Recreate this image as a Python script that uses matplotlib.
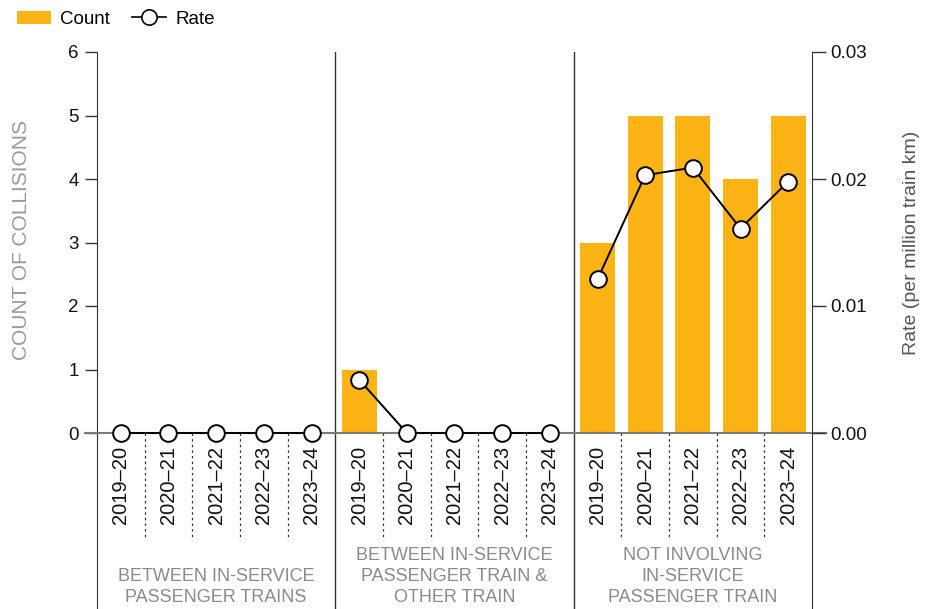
import matplotlib
matplotlib.use("Agg")
import matplotlib.pyplot as plt
from matplotlib.patches import Patch
from matplotlib.lines import Line2D
import numpy as np

plt.rcParams['font.family'] = ['Liberation Sans', 'DejaVu Sans']

years = ["2019–20", "2020–21", "2021–22", "2022–23", "2023–24"]
groups = ["BETWEEN IN-SERVICE\nPASSENGER TRAINS",
          "BETWEEN IN-SERVICE\nPASSENGER TRAIN &\nOTHER TRAIN",
          "NOT INVOLVING\nIN-SERVICE\nPASSENGER TRAIN"]
count_g1 = [0, 0, 0, 0, 0]
count_g2 = [1, 0, 0, 0, 0]
count_g3 = [3, 5, 5, 4, 5]
rate_g1 = [0.0, 0.0, 0.0, 0.0, 0.0]
rate_g2 = [0.0042, 0.0, 0.0, 0.0, 0.0]
rate_g3 = [0.0121, 0.0203, 0.0209, 0.0161, 0.0198]

counts = [count_g1, count_g2, count_g3]
rates = [rate_g1, rate_g2, rate_g3]

ORANGE = "#FCB316"
W, H = 929, 609
fig = plt.figure(figsize=(W / 100, H / 100), dpi=100)
ax = fig.add_axes([97 / W, 0, (812 - 97) / W, 1 - 52 / H])

ymin = -(609 - 433) * 6 / (433 - 52)
ax.set_ylim(ymin, 6)
ax.set_xlim(-0.5, 14.5)
ax2 = ax.twinx()
ax2.set_ylim(ymin * 0.005, 0.03)

n = len(years)
for g in range(3):
    xs = np.arange(n) + g * n
    ax.bar(xs, counts[g], width=0.73, color=ORANGE, zorder=2)
    ax2.plot(xs, rates[g], color="black", lw=1.4, marker="o", ms=12,
             mfc="white", mec="black", mew=1.4, zorder=5, clip_on=False)
    for i, x in enumerate(xs):
        ax.text(x, -0.2, years[i], rotation=90, ha="center", va="top",
                fontsize=14.5, color="#111111")
        if i > 0:
            ax.plot([x - 0.5, x - 0.5], [0, -1.68], ls=(0, (2, 2.5)), lw=0.9,
                    color="#333333", zorder=1)
    ax.text(g * n + 2, ymin + 0.05, groups[g], ha="center", va="bottom",
            fontsize=13, color="#8a8a8a", linespacing=1.3)

for xb in [4.5, 9.5]:
    ax.axvline(xb, color="#333333", lw=1.0, zorder=3)

ax.plot([-0.752, 14.79], [0, 0], color="#7a7a7a", lw=1.5, zorder=4, clip_on=False)

for s in ["top", "bottom"]:
    ax.spines[s].set_visible(False)
    ax2.spines[s].set_visible(False)
ax.spines["right"].set_visible(False)
ax2.spines["left"].set_visible(False)
ax.spines["left"].set_color("#333333")
ax2.spines["right"].set_color("#333333")

ax.set_xticks([])
ax.set_yticks(range(0, 7))
ax.tick_params(axis="y", length=9, width=1.0, color="#333333", labelsize=13.5,
               pad=4, labelcolor="#111111")
ax2.set_yticks([0.0, 0.01, 0.02, 0.03])
ax2.set_yticklabels(["0.00", "0.01", "0.02", "0.03"])
ax2.tick_params(axis="y", length=10, width=1.0, color="#333333", labelsize=13.5,
                pad=3, labelcolor="#111111")

fig.text(22 / W, 1 - 240 / H, "COUNT OF COLLISIONS", rotation=90, ha="center",
         va="center", fontsize=15, color="#999999")
fig.text(912 / W, 1 - 243 / H, "Rate (per million train km)", rotation=90,
         ha="center", va="center", fontsize=14, color="#555555")

handles = [Patch(facecolor=ORANGE, edgecolor="none"),
           Line2D([0], [0], color="black", lw=1.2, marker="o", ms=11,
                  mfc="white", mec="black", mew=1.2)]
fig.legend(handles, ["Count", "Rate"], loc="upper left",
           bbox_to_anchor=(0.0, 1.01), ncol=2, frameon=False, fontsize=13.5,
           handlelength=1.8, handletextpad=0.5, columnspacing=1.2)

fig.savefig("out.png", dpi=100)
